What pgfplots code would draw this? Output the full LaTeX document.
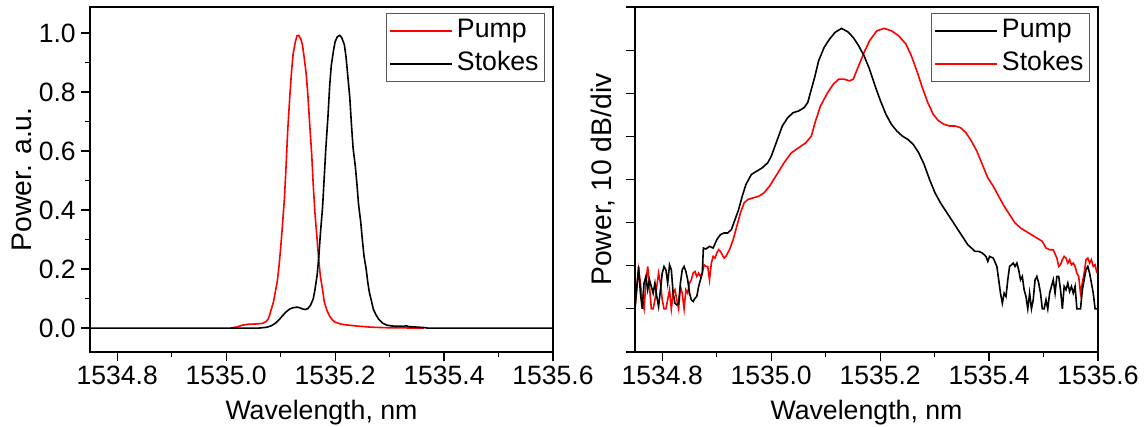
\documentclass[border=0pt]{standalone}
\usepackage{fontspec}
\setmainfont{Liberation Sans}
\usepackage{pgfplots}
\usepackage{pgfplotstable}
\pgfplotsset{compat=1.18}

\pgfplotstableread{
x y
1535.008 0.0
1535.020 0.004
1535.030 0.010
1535.040 0.013
1535.055 0.014
1535.067 0.016
1535.073 0.022
1535.077 0.030
1535.080 0.045
1535.083 0.065
1535.087 0.09
1535.090 0.12
1535.094 0.16
1535.097 0.21
1535.100 0.27
1535.103 0.34
1535.107 0.44
1535.110 0.55
1535.113 0.67
1535.117 0.79
1535.120 0.87
1535.123 0.93
1535.127 0.97
1535.130 0.99
1535.133 0.992
1535.137 0.98
1535.140 0.96
1535.143 0.92
1535.147 0.86
1535.150 0.79
1535.153 0.70
1535.157 0.59
1535.160 0.48
1535.163 0.39
1535.167 0.30
1535.170 0.23
1535.173 0.175
1535.177 0.13
1535.180 0.09
1535.185 0.06
1535.190 0.04
1535.195 0.028
1535.200 0.020
1535.210 0.014
1535.220 0.011
1535.240 0.007
1535.267 0.003
1535.300 0.001
1535.363 0.0
}\leftpump

\pgfplotstableread{
x y
1534.75 0
1535.060 0
1535.075 0.003
1535.083 0.008
1535.090 0.016
1535.097 0.028
1535.103 0.041
1535.110 0.055
1535.117 0.065
1535.123 0.069
1535.130 0.071
1535.135 0.069
1535.140 0.065
1535.145 0.063
1535.150 0.066
1535.155 0.078
1535.160 0.10
1535.163 0.13
1535.167 0.18
1535.170 0.24
1535.173 0.32
1535.177 0.41
1535.180 0.51
1535.183 0.61
1535.187 0.72
1535.190 0.82
1535.193 0.89
1535.197 0.94
1535.200 0.97
1535.204 0.987
1535.208 0.992
1535.212 0.985
1535.217 0.96
1535.220 0.92
1535.223 0.86
1535.227 0.78
1535.230 0.69
1535.233 0.61
1535.237 0.55
1535.240 0.49
1535.243 0.42
1535.247 0.36
1535.250 0.30
1535.253 0.245
1535.257 0.20
1535.260 0.155
1535.263 0.12
1535.267 0.09
1535.270 0.065
1535.275 0.045
1535.280 0.030
1535.287 0.017
1535.295 0.010
1535.305 0.007
1535.327 0.006
1535.330 0.008
1535.335 0.005
1535.363 0.002
1535.370 0
1535.600 0
}\leftstokes

\pgfplotstableread{
x y
1534.7499 10.00
1534.7533 15.19
1534.7566 19.84
1534.7599 13.64
1534.7633 10.00
1534.7666 15.97
1534.7700 17.52
1534.7733 14.42
1534.7766 16.74
1534.7800 15.19
1534.7833 13.64
1534.7866 15.97
1534.7900 12.87
1534.7933 10.54
1534.7967 14.42
1534.8000 18.29
1534.8033 19.84
1534.8067 19.07
1534.8100 15.97
1534.8134 20.23
1534.8167 19.07
1534.8200 13.64
1534.8234 11.32
1534.8267 10.93
1534.8301 11.32
1534.8334 15.97
1534.8367 19.07
1534.8401 19.84
1534.8434 18.68
1534.8467 16.74
1534.8501 13.64
1534.8534 12.09
1534.8568 11.71
1534.8601 12.48
1534.8634 12.87
1534.8668 15.19
1534.8701 16.74
1534.8735 18.29
1534.8755 24.11
1534.8801 23.88
1534.8868 24.50
1534.8935 24.11
1534.9002 26.05
1534.9068 27.21
1534.9135 27.60
1534.9202 27.60
1534.9269 28.37
1534.9336 30.70
1534.9402 33.02
1534.9469 36.12
1534.9536 38.84
1534.9636 41.16
1534.9736 41.94
1534.9836 42.71
1534.9937 43.88
1535.0003 45.43
1535.0070 47.75
1535.0137 50.08
1535.0204 52.40
1535.0304 54.34
1535.0404 55.50
1535.0504 55.89
1535.0604 56.67
1535.0671 57.83
1535.0738 60.93
1535.0805 64.03
1535.0871 67.52
1535.0972 70.62
1535.1072 72.56
1535.1172 74.11
1535.1292 75.04
1535.1406 74.26
1535.1506 72.95
1535.1606 71.01
1535.1706 68.68
1535.1806 65.58
1535.1907 61.71
1535.2007 58.22
1535.2107 55.12
1535.2207 52.79
1535.2307 51.24
1535.2407 50.08
1535.2508 49.30
1535.2608 48.14
1535.2708 46.20
1535.2808 43.49
1535.2908 40.00
1535.3008 36.90
1535.3109 34.57
1535.3209 32.64
1535.3309 30.70
1535.3409 28.76
1535.3509 26.82
1535.3609 24.88
1535.3676 24.11
1535.3743 23.33
1535.3810 23.33
1535.3876 22.95
1535.3943 22.17
1535.3977 21.01
1535.4010 22.17
1535.4077 21.78
1535.4144 19.84
1535.4177 16.74
1535.4210 13.64
1535.4244 11.32
1535.4277 13.64
1535.4311 12.87
1535.4344 16.74
1535.4377 19.84
1535.4411 20.23
1535.4444 20.62
1535.4477 19.84
1535.4511 20.62
1535.4544 19.07
1535.4578 16.74
1535.4611 17.52
1535.4644 14.42
1535.4678 12.87
1535.4711 10.00
1535.4745 13.64
1535.4778 10.00
1535.4811 12.09
1535.4845 16.74
1535.4878 17.52
1535.4912 15.97
1535.4945 13.64
1535.4978 10.00
1535.5012 10.00
1535.5045 12.09
1535.5078 10.00
1535.5112 13.64
1535.5145 15.19
1535.5179 16.74
1535.5212 13.64
1535.5245 17.52
1535.5279 17.52
1535.5312 14.42
1535.5346 10.00
1535.5379 15.19
1535.5412 14.42
1535.5446 15.97
1535.5479 14.03
1535.5513 15.19
1535.5546 13.64
1535.5579 15.19
1535.5613 10.00
1535.5646 10.00
1535.5679 10.00
1535.5713 14.42
1535.5746 16.74
1535.5780 19.07
1535.5813 19.84
1535.5846 18.29
1535.5880 15.97
1535.5913 13.64
1535.5947 10.00
1535.5980 10.00
}\rightpump

\pgfplotstableread{
x y
1534.7499 10.00
1534.7533 14.42
1534.7566 19.07
1534.7599 15.97
1534.7633 12.09
1534.7666 10.00
1534.7700 15.97
1534.7733 19.84
1534.7766 15.19
1534.7800 10.00
1534.7833 10.00
1534.7866 12.09
1534.7900 15.19
1534.7933 18.29
1534.7967 15.97
1534.8000 12.09
1534.8033 10.00
1534.8067 10.00
1534.8100 12.09
1534.8134 14.42
1534.8167 10.00
1534.8200 13.64
1534.8234 14.42
1534.8267 12.09
1534.8301 10.00
1534.8334 15.19
1534.8367 13.64
1534.8401 10.00
1534.8434 14.42
1534.8467 13.64
1534.8501 15.97
1534.8534 16.74
1534.8568 18.29
1534.8601 18.68
1534.8634 17.52
1534.8668 18.29
1534.8701 17.52
1534.8735 18.29
1534.8768 20.23
1534.8801 19.84
1534.8835 19.84
1534.8868 16.74
1534.8902 20.62
1534.8935 22.17
1534.8968 21.78
1534.9002 22.95
1534.9035 23.72
1534.9068 23.33
1534.9102 22.56
1534.9135 21.78
1534.9169 22.17
1534.9235 23.72
1534.9302 26.05
1534.9369 29.15
1534.9436 32.25
1534.9503 34.57
1534.9569 35.35
1534.9669 35.74
1534.9770 36.12
1534.9870 36.90
1534.9970 38.45
1535.0104 41.16
1535.0237 43.88
1535.0371 46.20
1535.0504 47.36
1535.0638 48.53
1535.0738 50.08
1535.0805 53.18
1535.0905 57.05
1535.1038 60.16
1535.1139 62.09
1535.1239 63.26
1535.1339 63.26
1535.1439 62.87
1535.1506 63.26
1535.1606 66.36
1535.1706 69.46
1535.1806 72.17
1535.1940 74.50
1535.2073 75.04
1535.2207 74.50
1535.2341 73.33
1535.2474 71.40
1535.2574 68.68
1535.2674 65.19
1535.2775 61.32
1535.2875 57.83
1535.2975 55.12
1535.3075 53.57
1535.3175 52.79
1535.3275 52.40
1535.3376 52.40
1535.3476 52.02
1535.3576 50.85
1535.3676 48.91
1535.3776 46.59
1535.3876 43.49
1535.3977 40.39
1535.4077 38.45
1535.4177 36.12
1535.4277 33.80
1535.4377 31.86
1535.4477 29.92
1535.4578 28.76
1535.4678 27.98
1535.4778 27.21
1535.4878 26.43
1535.4978 25.66
1535.5045 24.11
1535.5112 23.72
1535.5179 23.72
1535.5245 21.78
1535.5279 19.84
1535.5312 20.23
1535.5346 21.40
1535.5379 22.17
1535.5412 21.78
1535.5446 20.62
1535.5479 21.40
1535.5513 20.23
1535.5546 20.62
1535.5579 19.84
1535.5613 18.29
1535.5646 17.52
1535.5679 13.64
1535.5713 15.97
1535.5746 18.29
1535.5780 21.40
1535.5813 21.78
1535.5846 20.62
1535.5880 21.40
1535.5913 19.84
1535.5947 20.23
1535.5980 18.29
}\rightstokes

\pgfplotsset{
  spec/.style={
    scale only axis, width=231.5bp, height=172.5bp,
    xmin=1534.75, xmax=1535.6,
    xtick={1534.8,1535.0,1535.2,1535.4,1535.6},
    minor x tick num=1,
    scaled x ticks=false, scaled y ticks=false,
    tick align=outside,
    xtick pos=bottom, ytick pos=left,
    major tick length=4.5bp, minor tick length=2.5bp,
    every tick/.style={black, line width=0.6bp},
    axis line style={line width=0.75bp},
    /pgf/number format/.cd, fixed, fixed zerofill, precision=1, 1000 sep={}, assume math mode=true,
    /pgfplots/.cd,
    tick label style={font=\fontsize{13.3}{15}\selectfont},
    xticklabel style={inner ysep=2.5bp},
    yticklabel style={inner xsep=2.5bp},
    xlabel style={font=\fontsize{13.4}{15}\selectfont},
    ylabel style={font=\fontsize{14.2}{16}\selectfont},
    xlabel={Wavelength, nm},
    xlabel style={at={(axis description cs:0.5,-0.197)}, anchor=base},
    legend cell align=left,
    legend image code/.code={\draw[##1,line width=0.8bp] (0bp,0bp) -- (31bp,0bp);},
    legend style={at={(axis description cs:0.639,0.983)}, anchor=north west,
      draw=black!65, line width=0.5bp, font=\fontsize{13.4}{15}\selectfont,
      inner xsep=1.5bp, inner ysep=0.85bp, row sep=0.7bp, column sep=0.5bp,
      nodes={inner xsep=1.5bp, inner ysep=1.5bp, text height=9.9bp, text depth=2.9bp}},
  }
}

\begin{document}
\begin{tikzpicture}
\path[use as bounding box] (0,0) rectangle (573bp,213.5bp);
\begin{axis}[spec, at={(45bp,37.5bp)}, anchor=south west,
  ymin=-0.081, ymax=1.088,
  ytick={0,0.2,0.4,0.6,0.8,1.0}, minor y tick num=1,
  ylabel={Power. a.u.},
  ylabel style={at={(axis description cs:-0.147,0.5)}, anchor=center},
]
\addplot[red, line width=0.8bp] table[x=x,y=y] {\leftpump};
\addlegendentry{Pump}
\addplot[black, line width=0.8bp] table[x=x,y=y] {\leftstokes};
\addlegendentry{Stokes}
\end{axis}
\begin{axis}[spec, at={(317.5bp,37.5bp)}, anchor=south west,
  ymin=0, ymax=80,
  ytick={0,10,...,80}, yticklabels={},
  ylabel={Power, 10 dB/div},
  ylabel style={at={(axis description cs:-0.069,0.5)}, anchor=center},
  reverse legend,
]
\addplot[red, line width=0.8bp] table[x=x,y=y] {\rightstokes};
\addlegendentry{Stokes}
\addplot[black, line width=0.8bp] table[x=x,y=y] {\rightpump};
\addlegendentry{Pump}
\end{axis}
\end{tikzpicture}
\end{document}
